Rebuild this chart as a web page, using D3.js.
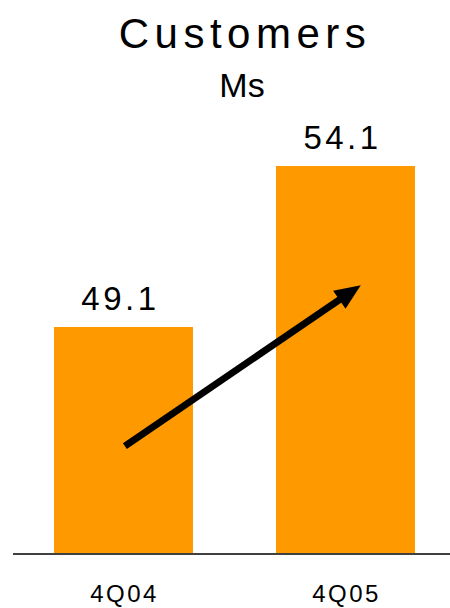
<!DOCTYPE html>
<html>
<head>
<meta charset="utf-8">
<script src="https://cdn.jsdelivr.net/npm/d3@7"></script>
<style>
  body { margin: 0; background: #fff; }
  text { font-family: "Liberation Sans", Arial, sans-serif; fill: #000; }
</style>
</head>
<body>
<div id="chart"></div>
<script>
/* data */
const quarters = ["4Q04", "4Q05"];
const customers = [49.1, 54.1];
// growth arrow: start and end (category, value)
const arrowFrom = ["4Q04", 45.4];
const arrowTo = ["4Q05", 50.4];

const W = 450, H = 608;
const baseY = 553;

const svg = d3.select("#chart").append("svg")
    .attr("width", W).attr("height", H);

/* scales (value axis does not start at zero) */
const x = d3.scaleBand().domain(quarters).range([54, 415]).paddingInner(0.374).paddingOuter(0);
const y = d3.scaleLinear().domain([42.08, 54.1]).range([baseY, 166]);

/* title */
svg.append("text").attr("x", 245).attr("y", 48)
    .attr("text-anchor", "middle").style("font-size", "42px").style("letter-spacing", "5.5px")
    .text("Customers");
svg.append("text").attr("x", 242).attr("y", 97)
    .attr("text-anchor", "middle").style("font-size", "34px")
    .text("Ms");

/* bars */
svg.selectAll(".bar")
    .data(quarters)
    .enter().append("rect")
    .attr("class", "bar")
    .attr("x", d => x(d))
    .attr("y", (d, i) => y(customers[i]))
    .attr("width", x.bandwidth())
    .attr("height", (d, i) => baseY - y(customers[i]))
    .attr("fill", "#FF9900");

/* value labels */
svg.selectAll(".val")
    .data(quarters)
    .enter().append("text")
    .attr("class", "val")
    .attr("x", d => x(d) + x.bandwidth() / 2 - 3)
    .attr("y", (d, i) => y(customers[i]) - 17)
    .attr("text-anchor", "middle")
    .style("font-size", "33px").style("letter-spacing", "3.5px")
    .text((d, i) => customers[i].toFixed(1));

/* baseline */
svg.append("line")
    .attr("x1", 13).attr("x2", W)
    .attr("y1", baseY + 1).attr("y2", baseY + 1)
    .attr("stroke", "#000").attr("stroke-width", 1.5);

/* category labels */
svg.selectAll(".cat")
    .data(quarters)
    .enter().append("text")
    .attr("class", "cat")
    .attr("x", d => x(d) + x.bandwidth() / 2 + 1)
    .attr("y", 602)
    .attr("text-anchor", "middle")
    .style("font-size", "24px").style("letter-spacing", "2.5px")
    .text(d => d);

/* growth arrow */
const x1 = x(arrowFrom[0]) + x.bandwidth() * 0.51, y1 = y(arrowFrom[1]);
const x2 = x(arrowTo[0]) + x.bandwidth() * 0.61, y2 = y(arrowTo[1]);
const ang = Math.atan2(y2 - y1, x2 - x1);
const headLen = 26, headW = 11;
const bx = x2 - headLen * Math.cos(ang), by = y2 - headLen * Math.sin(ang);
svg.append("line")
    .attr("x1", x1).attr("y1", y1)
    .attr("x2", bx + 3 * Math.cos(ang)).attr("y2", by + 3 * Math.sin(ang))
    .attr("stroke", "#000").attr("stroke-width", 7);
svg.append("polygon")
    .attr("points", [
        [x2, y2],
        [bx + headW * Math.sin(ang), by - headW * Math.cos(ang)],
        [bx - headW * Math.sin(ang), by + headW * Math.cos(ang)]
    ].map(p => p.join(",")).join(" "))
    .attr("fill", "#000");
</script>
</body>
</html>
